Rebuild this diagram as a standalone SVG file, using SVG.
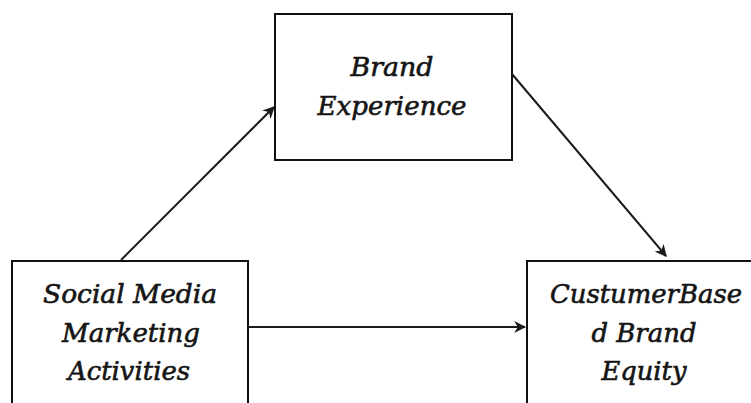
<svg xmlns="http://www.w3.org/2000/svg" width="751" height="403" viewBox="0 0 751 403">
  <style>
    .box { fill: #ffffff; stroke: #111111; stroke-width: 2; }
    .lbl { font-family: "DejaVu Serif", "Liberation Serif", serif; font-style: italic; font-size: 26px; fill: #151515; stroke: #151515; stroke-width: 0.6; text-anchor: middle; }
    .edge { stroke: #1a1a1a; stroke-width: 2; fill: none; marker-end: url(#arrow); }
  </style>
  <defs>
    <marker id="arrow" viewBox="0 0 10 10" refX="9" refY="5" markerWidth="6" markerHeight="6" orient="auto" markerUnits="strokeWidth">
      <path d="M0,0 L10,5 L0,10 L3,5 Z" fill="#1a1a1a"/>
    </marker>
  </defs>
  <rect width="751" height="403" fill="#ffffff"/>

  <g id="brand-experience">
    <rect class="box" x="275" y="14" width="237" height="146"/>
    <text class="lbl" x="392" y="76" textLength="83" lengthAdjust="spacingAndGlyphs">Brand</text>
    <text class="lbl" x="392" y="115" textLength="149" lengthAdjust="spacingAndGlyphs">Experience</text>
  </g>

  <g id="social-media">
    <rect class="box" x="12" y="261" width="236" height="160"/>
    <text class="lbl" x="130" y="303" textLength="174" lengthAdjust="spacingAndGlyphs">Social Media</text>
    <text class="lbl" x="131" y="342" textLength="138" lengthAdjust="spacingAndGlyphs">Marketing</text>
    <text class="lbl" x="129" y="380" textLength="122" lengthAdjust="spacingAndGlyphs">Activities</text>
  </g>

  <g id="cbbe">
    <rect class="box" x="527" y="261" width="240" height="160"/>
    <text class="lbl" x="646" y="303" textLength="192" lengthAdjust="spacingAndGlyphs">CustumerBase</text>
    <text class="lbl" x="644" y="342" textLength="105" lengthAdjust="spacingAndGlyphs">d Brand</text>
    <text class="lbl" x="644" y="380" textLength="85" lengthAdjust="spacingAndGlyphs">Equity</text>
  </g>

  <g id="connectors">
    <line class="edge" x1="121" y1="260" x2="274" y2="107"/>
    <line class="edge" x1="512" y1="74" x2="666" y2="256"/>
    <line class="edge" x1="249" y1="327" x2="525" y2="327"/>
  </g>
</svg>
